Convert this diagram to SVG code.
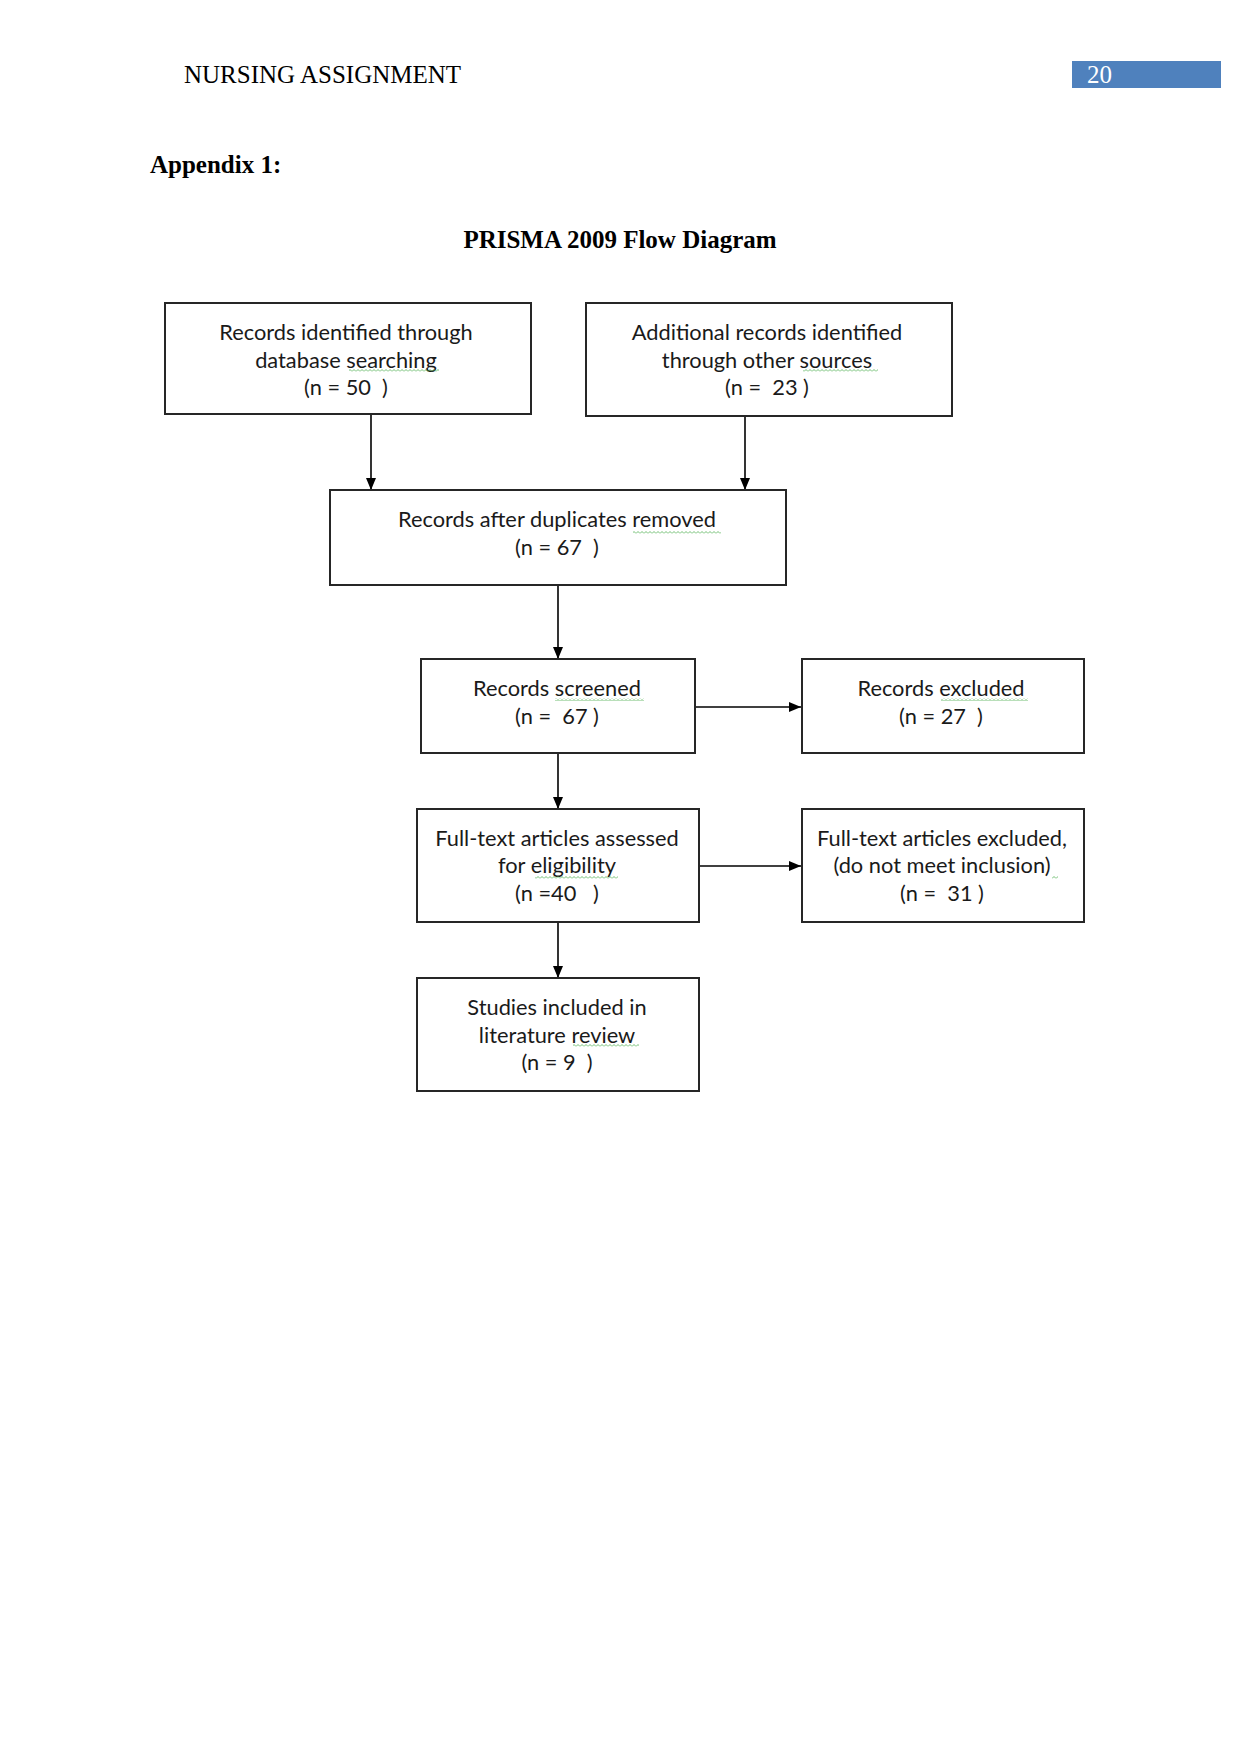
<svg xmlns="http://www.w3.org/2000/svg" width="1241" height="1754" viewBox="0 0 1241 1754">
<style>
.hdr{font-family:"Liberation Serif",serif;font-size:25px;fill:#000}
.bold{font-family:"Liberation Serif",serif;font-size:25px;font-weight:bold;fill:#000}
.box{fill:#fff;stroke:#262626;stroke-width:2}
.t{font-family:Lato,"Liberation Sans",sans-serif;font-size:21.8px;fill:#1a1a1a;text-anchor:middle;white-space:pre}
.conn{stroke:#000;stroke-width:1.6;fill:none}
.sq{fill:url(#squig)}
</style>
<defs>
<marker id="arr" viewBox="0 0 12 12" refX="12" refY="6" markerWidth="12" markerHeight="12" markerUnits="userSpaceOnUse" orient="auto">
<path d="M0,1 L12,6 L0,11 z" fill="#000"/>
</marker>
<pattern id="squig" width="4" height="3" patternUnits="userSpaceOnUse">
<path d="M0,2.5 L2,0.5 L4,2.5" fill="none" stroke="#4caf50" stroke-width="0.8"/>
</pattern>
</defs>

<g id="header">
<text class="hdr" x="184" y="83">NURSING ASSIGNMENT</text>
<rect x="1072" y="61" width="149" height="27" fill="#4f81bd"/>
<text class="hdr" x="1087" y="83" style="fill:#fff">20</text>
<text class="bold" x="150" y="173">Appendix 1:</text>
<text class="bold" x="620" y="248" text-anchor="middle">PRISMA 2009 Flow Diagram</text>
</g>

<g id="connectors">
<line class="conn" x1="371" y1="415" x2="371" y2="490" marker-end="url(#arr)"/>
<line class="conn" x1="745" y1="416" x2="745" y2="490" marker-end="url(#arr)"/>
<line class="conn" x1="558" y1="585" x2="558" y2="659" marker-end="url(#arr)"/>
<line class="conn" x1="558" y1="753" x2="558" y2="809" marker-end="url(#arr)"/>
<line class="conn" x1="558" y1="922" x2="558" y2="978" marker-end="url(#arr)"/>
<line class="conn" x1="695" y1="707" x2="801" y2="707" marker-end="url(#arr)"/>
<line class="conn" x1="699" y1="866" x2="801" y2="866" marker-end="url(#arr)"/>
</g>

<g id="node-database">
<rect class="box" x="165" y="303" width="366" height="111"/>
<text class="t" x="346" y="340">Records identified through</text>
<text class="t" x="346" y="368">database searching</text>
<text class="t" x="346" y="395">(n = 50  )</text>
<rect class="sq" x="349" y="369" width="90" height="3"/>
</g>

<g id="node-other">
<rect class="box" x="586" y="303" width="366" height="113"/>
<text class="t" x="767" y="340">Additional records identified</text>
<text class="t" x="767" y="368">through other sources</text>
<text class="t" x="767" y="395">(n =  23 )</text>
<rect class="sq" x="803" y="369" width="75" height="3"/>
</g>

<g id="node-duplicates">
<rect class="box" x="330" y="490" width="456" height="95"/>
<text class="t" x="557" y="527">Records after duplicates removed</text>
<text class="t" x="557" y="555">(n = 67  )</text>
<rect class="sq" x="633" y="531" width="88" height="3"/>
</g>

<g id="node-screened">
<rect class="box" x="421" y="659" width="274" height="94"/>
<text class="t" x="557" y="696">Records screened</text>
<text class="t" x="557" y="724">(n =  67 )</text>
<rect class="sq" x="555" y="698" width="89" height="3"/>
</g>

<g id="node-excluded">
<rect class="box" x="802" y="659" width="282" height="94"/>
<text class="t" x="941" y="696">Records excluded</text>
<text class="t" x="941" y="724">(n = 27  )</text>
<rect class="sq" x="941" y="698" width="87" height="3"/>
</g>

<g id="node-fulltext">
<rect class="box" x="417" y="809" width="282" height="113"/>
<text class="t" x="557" y="846">Full-text articles assessed</text>
<text class="t" x="557" y="873">for eligibility</text>
<text class="t" x="557" y="901">(n =40   )</text>
<rect class="sq" x="535" y="876" width="83" height="3"/>
</g>

<g id="node-ft-excluded">
<rect class="box" x="802" y="809" width="282" height="113"/>
<text class="t" x="942" y="846">Full-text articles excluded,</text>
<text class="t" x="942" y="873">(do not meet inclusion)</text>
<text class="t" x="942" y="901">(n =  31 )</text>
<rect class="sq" x="1052" y="876" width="6" height="3"/>
</g>

<g id="node-included">
<rect class="box" x="417" y="978" width="282" height="113"/>
<text class="t" x="557" y="1015">Studies included in</text>
<text class="t" x="557" y="1043">literature review</text>
<text class="t" x="557" y="1070">(n = 9  )</text>
<rect class="sq" x="573" y="1044" width="66" height="3"/>
</g>
</svg>
